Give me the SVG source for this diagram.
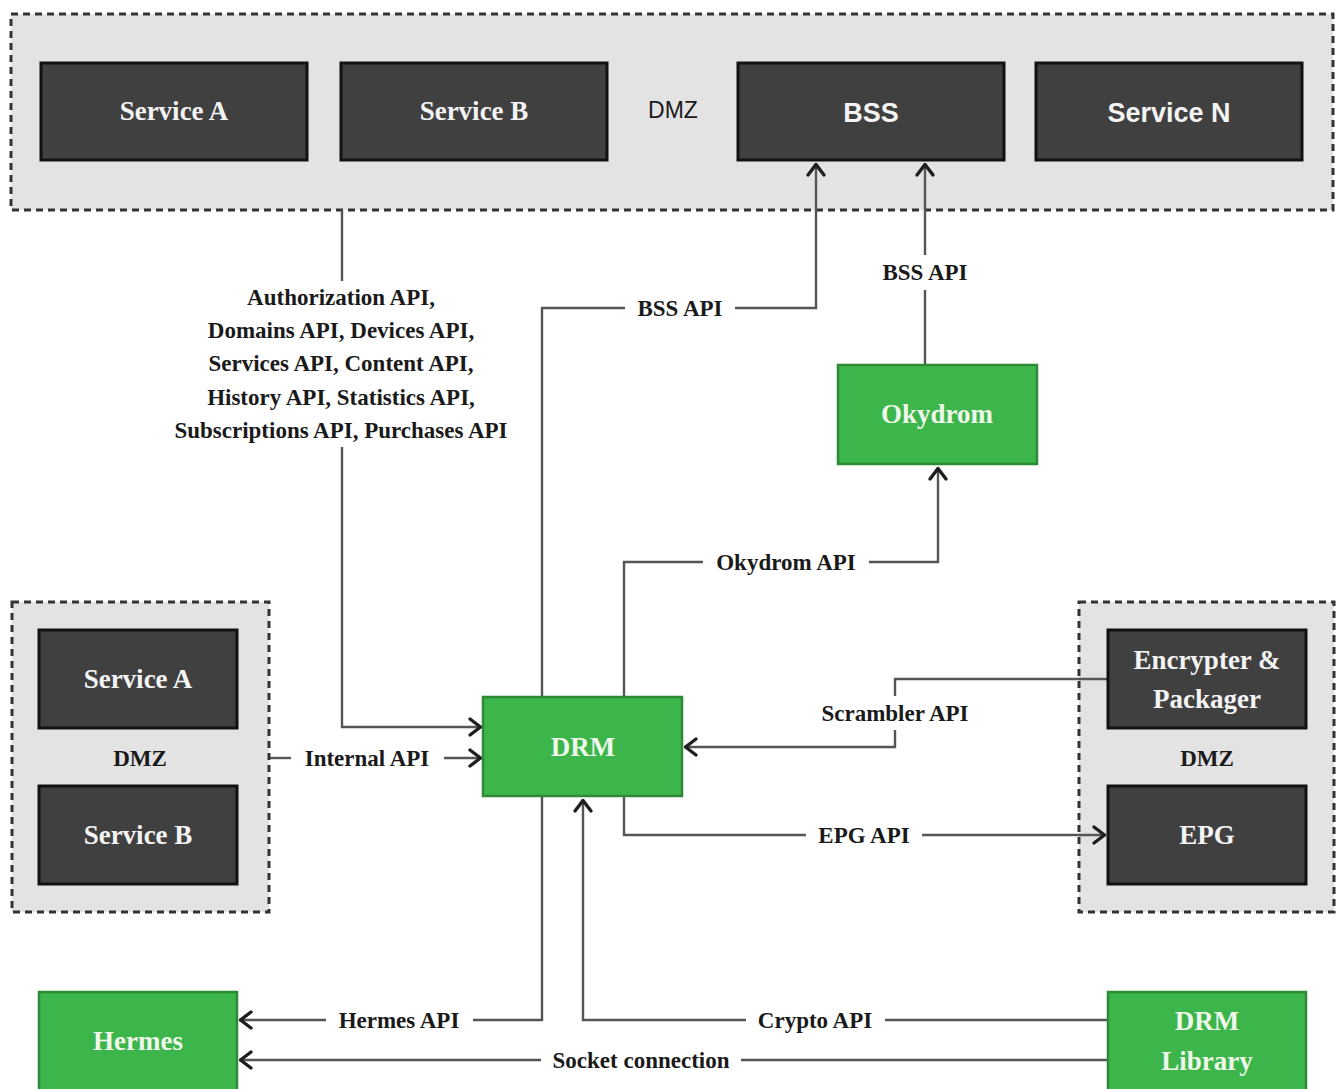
<svg xmlns="http://www.w3.org/2000/svg" width="1338" height="1089" viewBox="0 0 1338 1089">
<defs>
<style>
.zone{fill:#e3e3e3;stroke:#333;stroke-width:3;stroke-dasharray:7 5}
.dark{fill:#404040;stroke:#111;stroke-width:3}
.green{fill:#3cb54a;stroke:#2f8a37;stroke-width:2.5}
.nt{font-family:"Liberation Serif","Times New Roman",serif;font-weight:bold;font-size:27px;fill:#f4f4f4;text-anchor:middle}
.ns{font-family:"Liberation Sans",Arial,sans-serif;font-weight:bold;font-size:27px;fill:#f4f4f4;text-anchor:middle}
.gt{font-family:"Liberation Serif","Times New Roman",serif;font-weight:bold;font-size:27px;fill:#eef7ea;text-anchor:middle}
.lb{font-family:"Liberation Serif","Times New Roman",serif;font-weight:bold;font-size:23px;fill:#1a1a1a;text-anchor:middle}
.dmz{font-family:"Liberation Sans",Arial,sans-serif;font-size:23px;fill:#1a1a1a;text-anchor:middle}
.ln{fill:none;stroke:#555;stroke-width:2.4}
</style>
<marker id="ar" viewBox="-16 -11 18 22" refX="0" refY="0" markerWidth="18" markerHeight="22" orient="auto" markerUnits="userSpaceOnUse">
<path d="M-12,-8 L-1.5,0 L-12,8" fill="none" stroke="#1e1e1e" stroke-width="3.4" stroke-linejoin="round" stroke-linecap="round"/>
</marker>
</defs>

<g id="dmz-top">
<rect class="zone" x="11" y="14" width="1322" height="196"/>
<text class="dmz" x="673" y="118">DMZ</text>
</g>
<g id="dmz-left">
<rect class="zone" x="12" y="602" width="257" height="310"/>
<text class="lb" x="140" y="766">DMZ</text>
</g>
<g id="dmz-right">
<rect class="zone" x="1079" y="602" width="255" height="310"/>
<text class="lb" x="1207" y="766">DMZ</text>
</g>

<g id="connectors">
<path class="ln" d="M342,210 V281"/>
<path class="ln" d="M342,447 V727 H482" marker-end="url(#ar)"/>
<text class="lb" x="341" y="305">Authorization API,</text>
<text class="lb" x="341" y="338">Domains API, Devices API,</text>
<text class="lb" x="341" y="371">Services API, Content API,</text>
<text class="lb" x="341" y="405">History API, Statistics API,</text>
<text class="lb" x="341" y="438">Subscriptions API, Purchases API</text>

<path class="ln" d="M270,758 H291"/>
<path class="ln" d="M444,758 H482" marker-end="url(#ar)"/>
<text class="lb" x="367" y="766">Internal API</text>

<path class="ln" d="M542,697 V308 H625"/>
<path class="ln" d="M735,308 H816 V163" marker-end="url(#ar)"/>
<text class="lb" x="680" y="316">BSS API</text>

<path class="ln" d="M925,365 V290"/>
<path class="ln" d="M925,255 V163" marker-end="url(#ar)"/>
<text class="lb" x="925" y="280">BSS API</text>

<path class="ln" d="M624,697 V562 H703"/>
<path class="ln" d="M869,562 H938 V467" marker-end="url(#ar)"/>
<text class="lb" x="786" y="570">Okydrom API</text>

<path class="ln" d="M1107,679 H895 V696"/>
<path class="ln" d="M895,730 V747 H684" marker-end="url(#ar)"/>
<text class="lb" x="895" y="721">Scrambler API</text>

<path class="ln" d="M624,797 V835 H806"/>
<path class="ln" d="M922,835 H1106" marker-end="url(#ar)"/>
<text class="lb" x="864" y="843">EPG API</text>

<path class="ln" d="M542,797 V1020 H473"/>
<path class="ln" d="M326,1020 H239" marker-end="url(#ar)"/>
<text class="lb" x="399" y="1028">Hermes API</text>

<path class="ln" d="M1107,1020 H885"/>
<path class="ln" d="M746,1020 H583 V799" marker-end="url(#ar)"/>
<text class="lb" x="815" y="1028">Crypto API</text>

<path class="ln" d="M1107,1060 H741"/>
<path class="ln" d="M541,1060 H239" marker-end="url(#ar)"/>
<text class="lb" x="641" y="1068">Socket connection</text>
</g>

<g id="service-a-top"><rect class="dark" x="41" y="63" width="266" height="97"/><text class="nt" x="174" y="120">Service A</text></g>
<g id="service-b-top"><rect class="dark" x="341" y="63" width="266" height="97"/><text class="nt" x="474" y="120">Service B</text></g>
<g id="bss"><rect class="dark" x="738" y="63" width="266" height="97"/><text class="ns" x="871" y="122">BSS</text></g>
<g id="service-n"><rect class="dark" x="1036" y="63" width="266" height="97"/><text class="ns" x="1169" y="122">Service N</text></g>

<g id="okydrom"><rect class="green" x="838" y="365" width="199" height="99"/><text class="gt" x="937" y="423">Okydrom</text></g>
<g id="drm"><rect class="green" x="483" y="697" width="199" height="99"/><text class="gt" x="583" y="756">DRM</text></g>

<g id="service-a-left"><rect class="dark" x="39" y="630" width="198" height="98"/><text class="nt" x="138" y="688">Service A</text></g>
<g id="service-b-left"><rect class="dark" x="39" y="786" width="198" height="98"/><text class="nt" x="138" y="844">Service B</text></g>

<g id="encrypter"><rect class="dark" x="1108" y="630" width="198" height="98"/><text class="nt" x="1207" y="669">Encrypter &amp;</text><text class="nt" x="1207" y="708">Packager</text></g>
<g id="epg"><rect class="dark" x="1108" y="786" width="198" height="98"/><text class="nt" x="1207" y="844">EPG</text></g>

<g id="hermes"><rect class="green" x="39" y="992" width="198" height="99"/><text class="gt" x="138" y="1050">Hermes</text></g>
<g id="drm-library"><rect class="green" x="1108" y="992" width="198" height="99"/><text class="gt" x="1207" y="1030">DRM</text><text class="gt" x="1207" y="1070">Library</text></g>
</svg>
